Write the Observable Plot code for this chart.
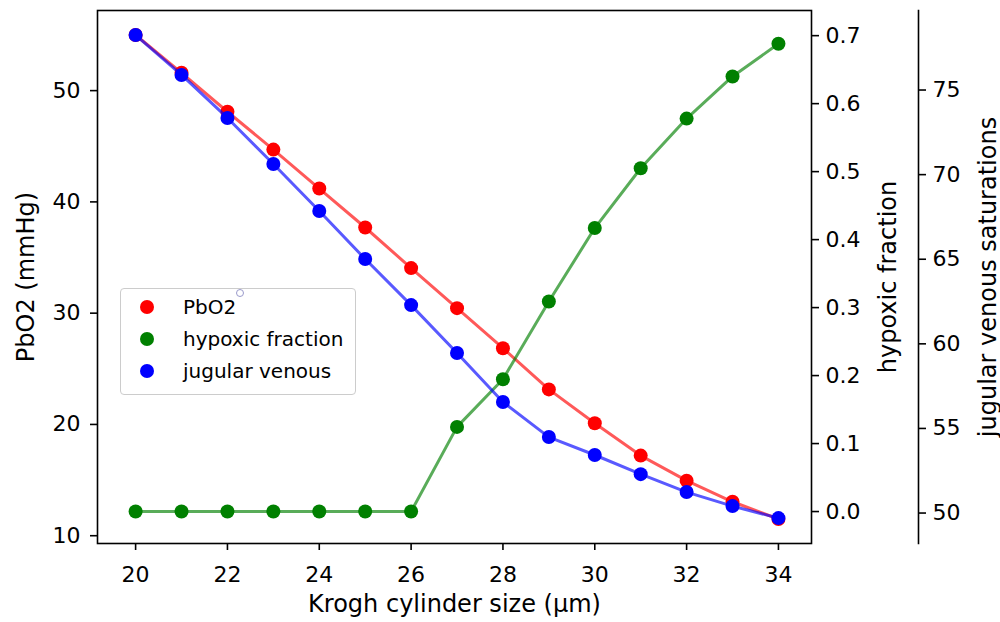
<!DOCTYPE html>
<html><head><meta charset="utf-8">
<script src="https://cdn.jsdelivr.net/npm/d3@7"></script>
<script src="https://cdn.jsdelivr.net/npm/@observablehq/plot@0.6"></script>
<style>
body{margin:0;background:#fff;font-family:"DejaVu Sans",sans-serif;}
#chart{position:relative;width:1000px;height:622px;overflow:hidden;}
#chart svg{position:absolute;left:0;top:0;background:transparent !important;}
#chart svg g[aria-label$="axis label"] text{font-size:24px;}
.legend{position:absolute;left:120px;top:288px;width:236px;height:107px;border:1px solid #cccccc;border-radius:4px;background:rgba(255,255,255,0.8);box-sizing:border-box;font-size:20px;color:#000;}
.legend .row{position:absolute;left:0;height:32px;line-height:32px;white-space:nowrap;}
.legend .dot{position:absolute;left:19px;top:9px;width:14px;height:14px;border-radius:50%;}
.legend .lab{position:absolute;left:62px;top:0;}
.legend .stray{position:absolute;left:115px;top:0px;width:6px;height:6px;border:1px solid #9a9acb;border-radius:50%;}
</style></head><body><div id="chart"></div>
<script>
const kroghSize = [20,21,22,23,24,25,26,27,28,29,30,31,32,33,34];
const pbo2 = [55.0,51.6,48.1,44.7,41.2,37.7,34.05,30.45,26.85,23.15,20.1,17.2,14.95,13.05,11.5];
const hypoxicFraction = [0,0,0,0,0,0,0,0.1245,0.1947,0.309,0.417,0.505,0.578,0.640,0.688];
const jugularVenous = [78.25,75.89,73.35,70.63,67.85,65.01,62.29,59.46,56.56,54.49,53.43,52.30,51.24,50.41,49.70];
const xTicks = [20,22,24,26,28,30,32,34];
const pbo2Ticks = [10,20,30,40,50];
const hypoxicTicks = [0,0.1,0.2,0.3,0.4,0.5,0.6,0.7];
const jugularTicks = [50,55,60,65,70,75];
const seriesNames = ["PbO2","hypoxic fraction","jugular venous"];
const seriesColors = ["red","green","blue"];

const rows = kroghSize.map((k,i)=>({k, p:pbo2[i], h:hypoxicFraction[i], j:jugularVenous[i]}));
const common = {width:1000,height:622,marginTop:10,marginBottom:79,marginLeft:97,
  style:{fontFamily:"DejaVu Sans",fontSize:"22px",background:"transparent",color:"black",overflow:"visible"}};
const xScale = {domain:[19.17,34.72], range:[97,811]};
const lineStyle = {strokeWidth:3,strokeOpacity:0.65};

const p1 = Plot.plot({...common, marginRight:189, x:xScale, y:{domain:[9.3,57.2]},
  marks:[
    Plot.axisX({ticks:xTicks, tickSize:7, tickPadding:16, fontSize:22, strokeWidth:1.6,
      label:"Krogh cylinder size (μm)", labelAnchor:"center", labelOffset:68, labelArrow:"none"}),
    Plot.axisY({ticks:pbo2Ticks, anchor:"left", tickSize:7, tickPadding:10, fontSize:22, strokeWidth:1.6,
      label:"PbO2 (mmHg)", labelAnchor:"center", labelOffset:81, labelArrow:"none"}),
    Plot.line(rows,{x:"k",y:"p",stroke:seriesColors[0],...lineStyle}),
    Plot.dot(rows,{x:"k",y:"p",fill:seriesColors[0],r:7}),
    Plot.frame({stroke:"black",strokeWidth:1.6})
  ]});

const p2 = Plot.plot({...common, marginRight:189, x:{...xScale, axis:null}, y:{domain:[-0.047,0.737]},
  marks:[
    Plot.axisY({ticks:hypoxicTicks, anchor:"right", tickSize:7, tickPadding:7, fontSize:22, strokeWidth:1.6, tickFormat:".1f",
      label:"hypoxic fraction", labelAnchor:"center", labelOffset:84, labelArrow:"none"}),
    Plot.line(rows,{x:"k",y:"h",stroke:seriesColors[1],...lineStyle}),
    Plot.dot(rows,{x:"k",y:"h",fill:seriesColors[1],r:7})
  ]});

const p3 = Plot.plot({...common, marginRight:82, x:{...xScale, axis:null}, y:{domain:[48.2,79.7]},
  marks:[
    Plot.frame({anchor:"right",stroke:"black",strokeWidth:1.6}),
    Plot.axisY({ticks:jugularTicks, anchor:"right", tickSize:7, tickPadding:7, fontSize:22, strokeWidth:1.6,
      label:"jugular venous saturations", labelAnchor:"center", labelOffset:77, labelArrow:"none"}),
    Plot.line(rows,{x:"k",y:"j",stroke:seriesColors[2],...lineStyle}),
    Plot.dot(rows,{x:"k",y:"j",fill:seriesColors[2],r:7})
  ]});

const chart = document.getElementById("chart");
chart.append(p1,p2,p3);

const legend = document.createElement("div");
legend.className = "legend";
seriesNames.forEach((name,i)=>{
  const row = document.createElement("div");
  row.className = "row";
  row.style.top = (2 + 32*i) + "px";
  const dot = document.createElement("span");
  dot.className = "dot";
  dot.style.background = seriesColors[i];
  const lab = document.createElement("span");
  lab.className = "lab";
  lab.textContent = name;
  row.append(dot,lab);
  legend.append(row);
});
const stray = document.createElement("span");
stray.className = "stray";
legend.append(stray);
chart.append(legend);
</script>
</body></html>
